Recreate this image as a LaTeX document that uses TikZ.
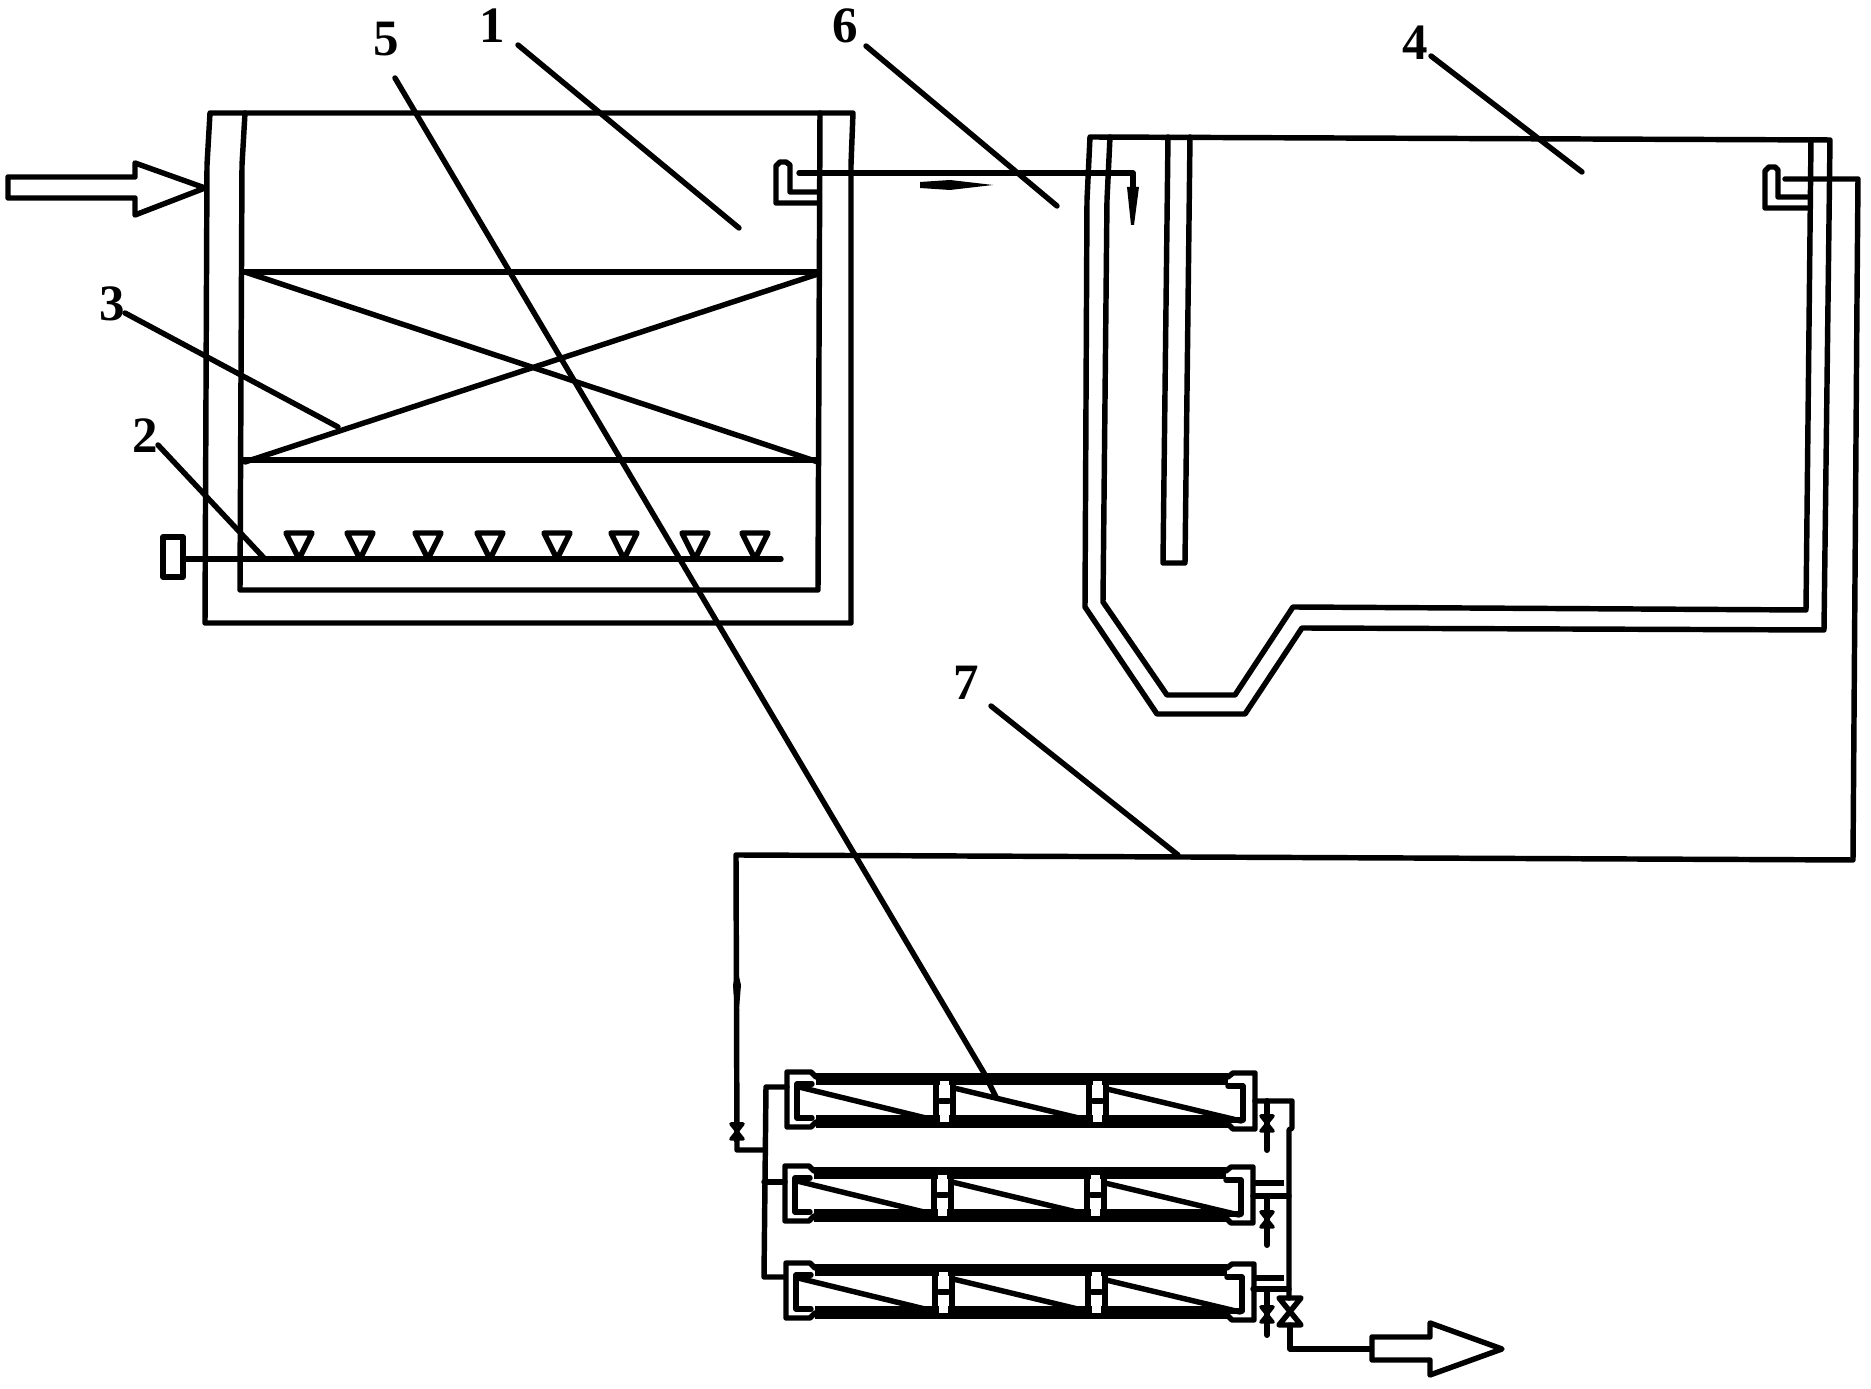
\documentclass[tikz,border=0pt]{standalone}
\usepackage{fontspec}
\setmainfont{Liberation Serif}
\tikzset{
	wall/.style={line width=1.55pt,line join=round,line cap=round},
	band/.style={line width=3.5pt},
	tag/.style={font=\fontsize{14.5pt}{14.5pt}\selectfont\bfseries,inner sep=0pt},
	spindle/.style={fill=black,draw=none},
	smallvalve/.style={fill=black,draw=black,line width=1pt,line join=round}
}
\begin{document}
\begin{tikzpicture}[x=0.01cm,y=-0.01cm]
	\useasboundingbox (0,0) rectangle (1871,1389);

	\node[tag] (n1) at (492,26) {1};
	\node[tag] (n2) at (145,436) {2};
	\node[tag] (n3) at (112,304) {3};
	\node[tag] (n4) at (1415,43) {4};
	\node[tag] (n5) at (386,39) {5};
	\node[tag] (n6) at (845,26) {6};
	\node[tag] (n7) at (966,683) {7};

	\coordinate (s1) at (518,45);   \coordinate (e1) at (739,228);
	\coordinate (s2) at (158,445);  \coordinate (e2) at (264,558);
	\coordinate (s3) at (125,313);  \coordinate (e3) at (338,427);
	\coordinate (s4) at (1431,56);  \coordinate (e4) at (1582,172);
	\coordinate (s5) at (395,78);   \coordinate (k5) at (984,1073); \coordinate (e5) at (996,1097);
	\coordinate (s6) at (866,46);   \coordinate (e6) at (1057,206);
	\coordinate (s7) at (991,706);  \coordinate (e7) at (1178,855);

	% first tank
	\draw[wall] (245,113) -- (242,165) -- (240,590) -- (818,590) -- (820,113);
	\draw[wall] (851,165) -- (851,623) -- (205,623) -- (207,165) -- (210,113) -- (853,113) -- (851,165);
	\draw[wall] (242,272) -- (818,272);
	\draw[wall] (242,460) -- (818,460);
	\draw[wall] (245,272) -- (818,462);
	\draw[wall] (245,462) -- (818,274);

	% aeration pipe
	\draw[wall] (163,537) rectangle (183,577);
	\draw[wall] (183,559) -- (781,559);
	\foreach \tx in {299,360,428,490,557,624,695,755}
		\draw[wall] (\tx-13,533) -- (\tx+13,533) -- (\tx,559) -- cycle;

	% inlet arrow
	\draw[wall] (8,177) -- (135,177) -- (135,163) -- (205,188) -- (135,215) -- (135,198) -- (8,198) -- cycle;

	% first tank outlet
	\draw[wall] (818,192) -- (790,192) -- (790,165) -- (786,162) -- (780,162) -- (776,166) -- (776,203) -- (818,203);
	\draw[wall] (799,173) -- (1133,173) -- (1133,187);
	\fill[spindle] (920,182) -- (950,180) -- (993,185) -- (950,190) -- (920,188) -- cycle;
	\fill[spindle] (1127,187) -- (1139,187) -- (1134,225) -- (1131,225) -- cycle;

	% second tank
	\draw[wall] (1830,140) -- (1090,137) -- (1087,200) -- (1085,607) -- (1157,714) -- (1245,714) -- (1302,628) -- (1824,630) -- (1830,140);
	\draw[wall] (1110,137) -- (1107,200) -- (1103,602) -- (1167,695) -- (1235,695) -- (1293,607) -- (1806,610) -- (1811,140);
	\draw[wall] (1168,137) -- (1163,563) -- (1185,563) -- (1190,137);

	% second tank outlet
	\draw[wall] (1807,197) -- (1778,197) -- (1778,170) -- (1775,167) -- (1769,167) -- (1765,171) -- (1765,208) -- (1807,208);
	\draw[wall] (1785,179) -- (1858,179) -- (1857,300) -- (1853,860) -- (736,855) -- (737,1150) -- (764,1150);
	\fill[spindle] (737,968) -- (741,985) -- (738,1022) -- (736,1022) -- (733,985) -- cycle;

	% inlet valve and header
	\draw[smallvalve] (731,1124) -- (743,1124) -- (731,1139) -- (743,1139) -- cycle;
	\draw[wall] (787,1087) -- (766,1087) -- (764,1277) -- (785,1277);
	\draw[wall] (764,1182) -- (785,1182);

	% membrane rows
	\foreach \dx/\dy in {0/0,-2/94,-1/191}{
		\begin{scope}[shift={(\dx,\dy)}]
			\draw[band] (816,1079) -- (1228,1079);
			\draw[band] (816,1121.5) -- (1228,1121.5);
			\draw[wall] (816,1077) -- (811,1072) -- (787,1072) -- (787,1127) -- (811,1127) -- (816,1122);
			\draw[wall] (812,1084) -- (797,1084) -- (797,1118) -- (812,1118);
			\draw[wall] (1228,1077) -- (1233,1073) -- (1255,1073) -- (1255,1129) -- (1233,1129) -- (1228,1124);
			\draw[wall] (1228,1086) -- (1243,1086) -- (1243,1120) -- (1228,1120);
			\draw[wall] (799,1087) -- (934,1120);
			\draw[wall] (954,1088) -- (1087,1120);
			\draw[wall] (1107,1089) -- (1241,1121);
			\draw[line width=1.7pt] (936,1076) -- (936,1124);
			\draw[line width=1.7pt] (953,1076) -- (953,1124);
			\draw[line width=1.7pt] (1089,1076) -- (1089,1124);
			\draw[line width=1.7pt] (1106,1076) -- (1106,1124);
			\fill[white] (940,1081) rectangle (949,1122);
			\fill[white] (1093,1081) rectangle (1102,1122);
			\draw[wall] (940,1101) -- (949,1101);
			\draw[wall] (1093,1101) -- (1102,1101);
		\end{scope}
	}

	% collecting pipe
	\draw[wall] (1255,1101) -- (1292,1101) -- (1292,1128) -- (1289,1130) -- (1289,1298);
	\draw[wall] (1253,1196) -- (1289,1196);
	\draw[wall] (1253,1289) -- (1289,1289);
	\draw[line width=1.8pt] (1253,1183) -- (1284,1183);
	\draw[line width=1.8pt] (1253,1278) -- (1284,1278);

	% drain valves
	\draw[line width=1.7pt,line cap=round] (1267,1101) -- (1267,1150);
	\draw[line width=1.7pt,line cap=round] (1267,1196) -- (1267,1245);
	\draw[line width=1.7pt,line cap=round] (1267,1289) -- (1267,1335);
	\draw[smallvalve] (1261,1116) -- (1273,1116) -- (1261,1131) -- (1273,1131) -- cycle;
	\draw[smallvalve] (1261,1212) -- (1273,1212) -- (1261,1227) -- (1273,1227) -- cycle;
	\draw[smallvalve] (1261,1307) -- (1273,1307) -- (1261,1322) -- (1273,1322) -- cycle;

	% main valve and outlet
	\draw[wall] (1279,1298) -- (1301,1298) -- (1279,1325) -- (1301,1325) -- cycle;
	\draw[wall] (1290,1325) -- (1290,1349) -- (1370,1349);
	\draw[wall] (1372,1337) -- (1430,1337) -- (1430,1323) -- (1502,1349) -- (1430,1375) -- (1430,1360) -- (1372,1360) -- cycle;

	% leaders
	\draw[wall] (s1) -- (e1);
	\draw[wall] (s2) -- (e2);
	\draw[wall] (s3) -- (e3);
	\draw[wall] (s4) -- (e4);
	\draw[wall] (s5) -- (k5) -- (e5);
	\draw[wall] (s6) -- (e6);
	\draw[wall] (s7) -- (e7);
\end{tikzpicture}
\end{document}
